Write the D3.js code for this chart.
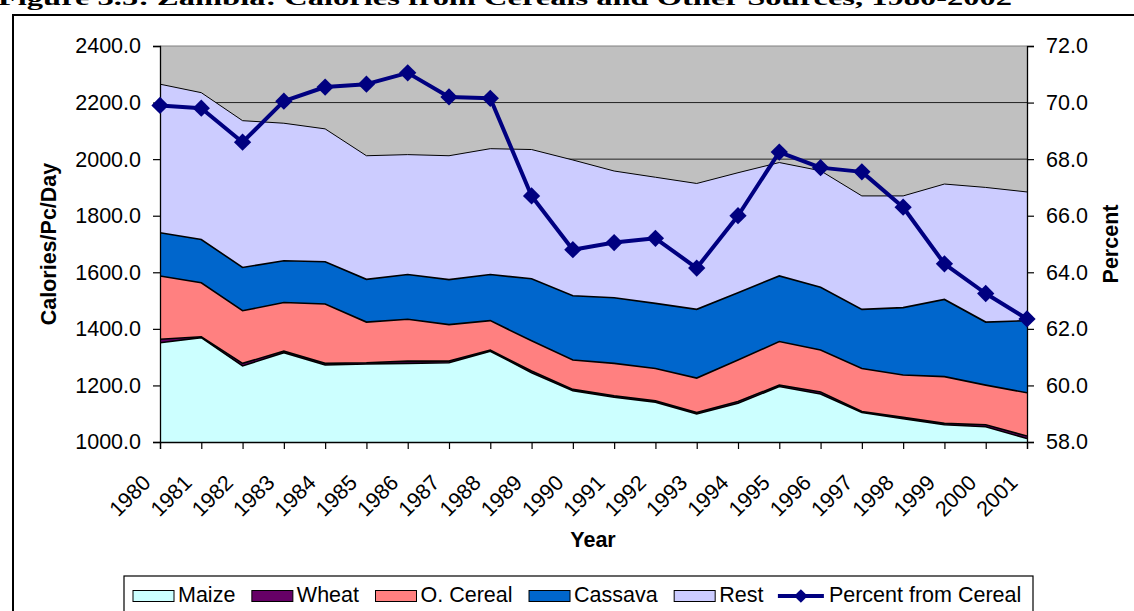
<!DOCTYPE html>
<html>
<head>
<meta charset="utf-8">
<script src="https://cdn.jsdelivr.net/npm/d3@7"></script>
<style>
  body { margin: 0; background: #fff; }
  svg { display: block; font-family: "Liberation Sans", Arial, sans-serif; }
</style>
</head>
<body>
<div id="wrapper"></div>
<script>
// values (calories per capita per day, by source)
const years = [1980, 1981, 1982, 1983, 1984, 1985, 1986, 1987, 1988, 1989, 1990,
               1991, 1992, 1993, 1994, 1995, 1996, 1997, 1998, 1999, 2000, 2001];
const maize   = [1351, 1369, 1269, 1316, 1272, 1276, 1278, 1280, 1321, 1245, 1181,
                 1158, 1141, 1099, 1137, 1196, 1170, 1104, 1082, 1061, 1054, 1012];
const wheat   = [12, 3, 9, 5, 6, 4, 8, 6, 4, 6, 5,
                 5, 5, 5, 6, 5, 7, 4, 5, 5, 7, 9];
const oCereal = [224, 191, 186, 172, 210, 144, 148, 129, 104, 107, 104,
                 115, 114, 122, 147, 154, 148, 152, 150, 165, 140, 153];
const cassava = [153, 153, 153, 148, 149, 151, 158, 159, 163, 219, 227,
                 232, 230, 243, 238, 232, 222, 209, 238, 273, 223, 255];
const rest    = [525, 519, 519, 486, 470, 437, 424, 438, 445, 457, 480,
                 448, 446, 445, 424, 401, 412, 401, 395, 408, 476, 455];
const percentCereal = [69.9, 69.8, 68.6, 70.05, 70.55, 70.65, 71.05, 70.2, 70.15, 66.7, 64.8,
                       65.05, 65.2, 64.15, 66.0, 68.25, 67.7, 67.55, 66.3, 64.3, 63.25, 62.35];
const calTicks = [1000, 1200, 1400, 1600, 1800, 2000, 2200, 2400];
const pctTicks = [58, 60, 62, 64, 66, 68, 70, 72];

const seriesNames = ["Maize", "Wheat", "O. Cereal", "Cassava", "Rest"];
const seriesColors = ["#CCFFFF", "#660066", "#FF8080", "#0066CC", "#CCCCFF"];
const lineName = "Percent from Cereal";
const lineColor = "#000080";

const table = years.map((yr, i) => ({
    year: yr,
    "Maize": maize[i],
    "Wheat": wheat[i],
    "O. Cereal": oCereal[i],
    "Cassava": cassava[i],
    "Rest": rest[i],
    pct: percentCereal[i]
}));

const fontSize = 21.5;

const dimensions = {
    width: 1134,
    height: 611,
    margin: { top: 46, right: 107, bottom: 169, left: 160 }
};
dimensions.boundedWidth = dimensions.width - dimensions.margin.left - dimensions.margin.right;
dimensions.boundedHeight = dimensions.height - dimensions.margin.top - dimensions.margin.bottom;

const svg = d3.select("#wrapper")
    .append("svg")
    .attr("width", dimensions.width)
    .attr("height", dimensions.height);

// title (cut off at the top of the page) and outer frame
svg.append("text")
    .attr("x", -2)
    .attr("y", 5)
    .attr("font-family", "'Liberation Serif', 'Times New Roman', serif")
    .attr("font-weight", "bold")
    .attr("font-size", 22)
    .attr("textLength", 1014)
    .attr("lengthAdjust", "spacingAndGlyphs")
    .text("Figure 3.5:  Zambia: Calories from Cereals and Other Sources, 1980-2002");

svg.append("rect")
    .attr("x", 13).attr("y", 15)
    .attr("width", 1140).attr("height", 620)
    .attr("fill", "none")
    .attr("stroke", "#000")
    .attr("stroke-width", 2);

const bounds = svg.append("g")
    .attr("transform", `translate(${dimensions.margin.left},${dimensions.margin.top})`);

const xScale = d3.scalePoint()
    .domain(years)
    .range([0, dimensions.boundedWidth]);

const yScale = d3.scaleLinear()
    .domain([1000, 2400])
    .range([dimensions.boundedHeight, 0]);

const pScale = d3.scaleLinear()
    .domain([58, 72])
    .range([dimensions.boundedHeight, 0]);

// plot background + grid
bounds.append("rect")
    .attr("width", dimensions.boundedWidth)
    .attr("height", dimensions.boundedHeight)
    .attr("fill", "#C0C0C0");

bounds.append("g")
    .selectAll("line")
    .data(calTicks)
    .join("line")
    .attr("x1", 0)
    .attr("x2", dimensions.boundedWidth)
    .attr("y1", d => yScale(d))
    .attr("y2", d => yScale(d))
    .attr("stroke", d => d === 2400 ? "#808080" : "#222")
    .attr("stroke-width", 1);

bounds.append("clipPath")
    .attr("id", "plotClip")
    .append("rect")
    .attr("width", dimensions.boundedWidth)
    .attr("height", dimensions.boundedHeight);

const stacked = d3.stack().keys(seriesNames)(table);

const area = d3.area()
    .x(d => xScale(d.data.year))
    .y0(d => yScale(d[0]))
    .y1(d => yScale(d[1]));

const topLine = d3.line()
    .x(d => xScale(d.data.year))
    .y(d => yScale(d[1]));

const areas = bounds.append("g").attr("clip-path", "url(#plotClip)");

areas.selectAll("path.area")
    .data(stacked)
    .join("path")
    .attr("class", "area")
    .attr("d", area)
    .attr("fill", (d, i) => seriesColors[i]);

areas.selectAll("path.edge")
    .data(stacked)
    .join("path")
    .attr("class", "edge")
    .attr("d", topLine)
    .attr("fill", "none")
    .attr("stroke", "#000")
    .attr("stroke-width", (d, i) => i === 4 ? 1 : 1.6);

// axes
const fmt = d3.format(".1f");

const leftAxis = bounds.append("g")
    .call(d3.axisLeft(yScale).tickValues(calTicks).tickSize(7).tickPadding(12).tickFormat(fmt));

const rightAxis = bounds.append("g")
    .attr("transform", `translate(${dimensions.boundedWidth},0)`)
    .call(d3.axisRight(pScale).tickValues(pctTicks).tickSize(7).tickPadding(12).tickFormat(fmt));

const bottomAxis = bounds.append("g")
    .attr("transform", `translate(0,${dimensions.boundedHeight})`)
    .call(d3.axisBottom(xScale).tickSize(7).tickFormat(""));

[leftAxis, rightAxis, bottomAxis].forEach(ax => {
    ax.select(".domain").attr("stroke", "#000").attr("stroke-width", 1.3);
    ax.selectAll(".tick line").attr("stroke", "#000").attr("stroke-width", 1.2);
    ax.selectAll("text")
        .attr("font-family", "'Liberation Sans', Arial, sans-serif")
        .attr("font-size", fontSize)
        .attr("fill", "#000");
});

// rotated year labels
bounds.append("g")
    .selectAll("text")
    .data(years)
    .join("text")
    .attr("transform", d => `translate(${xScale(d) - 8},${dimensions.boundedHeight + 42}) rotate(-45)`)
    .attr("text-anchor", "end")
    .attr("font-size", fontSize)
    .text(d => d);

// percent line
const pctLine = d3.line()
    .x(d => xScale(d.year))
    .y(d => pScale(d.pct));

bounds.append("path")
    .datum(table)
    .attr("d", pctLine)
    .attr("fill", "none")
    .attr("stroke", lineColor)
    .attr("stroke-width", 4)
    .attr("stroke-linejoin", "round");

const diamond = d3.symbol().type(d3.symbolDiamond2).size(190);

bounds.append("g")
    .selectAll("path")
    .data(table)
    .join("path")
    .attr("transform", d => `translate(${xScale(d.year)},${pScale(d.pct)})`)
    .attr("d", diamond)
    .attr("fill", lineColor);

// axis titles
svg.append("text")
    .attr("transform", "translate(56,244) rotate(-90)")
    .attr("text-anchor", "middle")
    .attr("font-weight", "bold")
    .attr("font-size", fontSize)
    .text("Calories/Pc/Day");

svg.append("text")
    .attr("transform", "translate(1118,244) rotate(-90)")
    .attr("text-anchor", "middle")
    .attr("font-weight", "bold")
    .attr("font-size", fontSize)
    .text("Percent");

svg.append("text")
    .attr("x", 593)
    .attr("y", 547)
    .attr("text-anchor", "middle")
    .attr("font-weight", "bold")
    .attr("font-size", fontSize)
    .text("Year");

// legend
const legend = svg.append("g");
legend.append("rect")
    .attr("x", 124).attr("y", 576)
    .attr("width", 909).attr("height", 60)
    .attr("fill", "#fff")
    .attr("stroke", "#000")
    .attr("stroke-width", 1.2);

let lx = 133;
seriesNames.forEach((name, i) => {
    legend.append("rect")
        .attr("x", lx).attr("y", 590.5)
        .attr("width", 41).attr("height", 11)
        .attr("fill", seriesColors[i])
        .attr("stroke", "#000")
        .attr("stroke-width", 1);
    const t = legend.append("text")
        .attr("x", lx + 45)
        .attr("y", 601.5)
        .attr("font-size", fontSize)
        .text(name);
    lx += 45 + t.node().getComputedTextLength() + 16.5;
});

legend.append("line")
    .attr("x1", lx - 2).attr("x2", lx + 44)
    .attr("y1", 596).attr("y2", 596)
    .attr("stroke", lineColor)
    .attr("stroke-width", 4);
legend.append("path")
    .attr("transform", `translate(${lx + 21},596)`)
    .attr("d", d3.symbol().type(d3.symbolDiamond2).size(120))
    .attr("fill", lineColor);
legend.append("text")
    .attr("x", lx + 49)
    .attr("y", 601.5)
    .attr("font-size", fontSize)
    .text(lineName);
</script>
</body>
</html>
